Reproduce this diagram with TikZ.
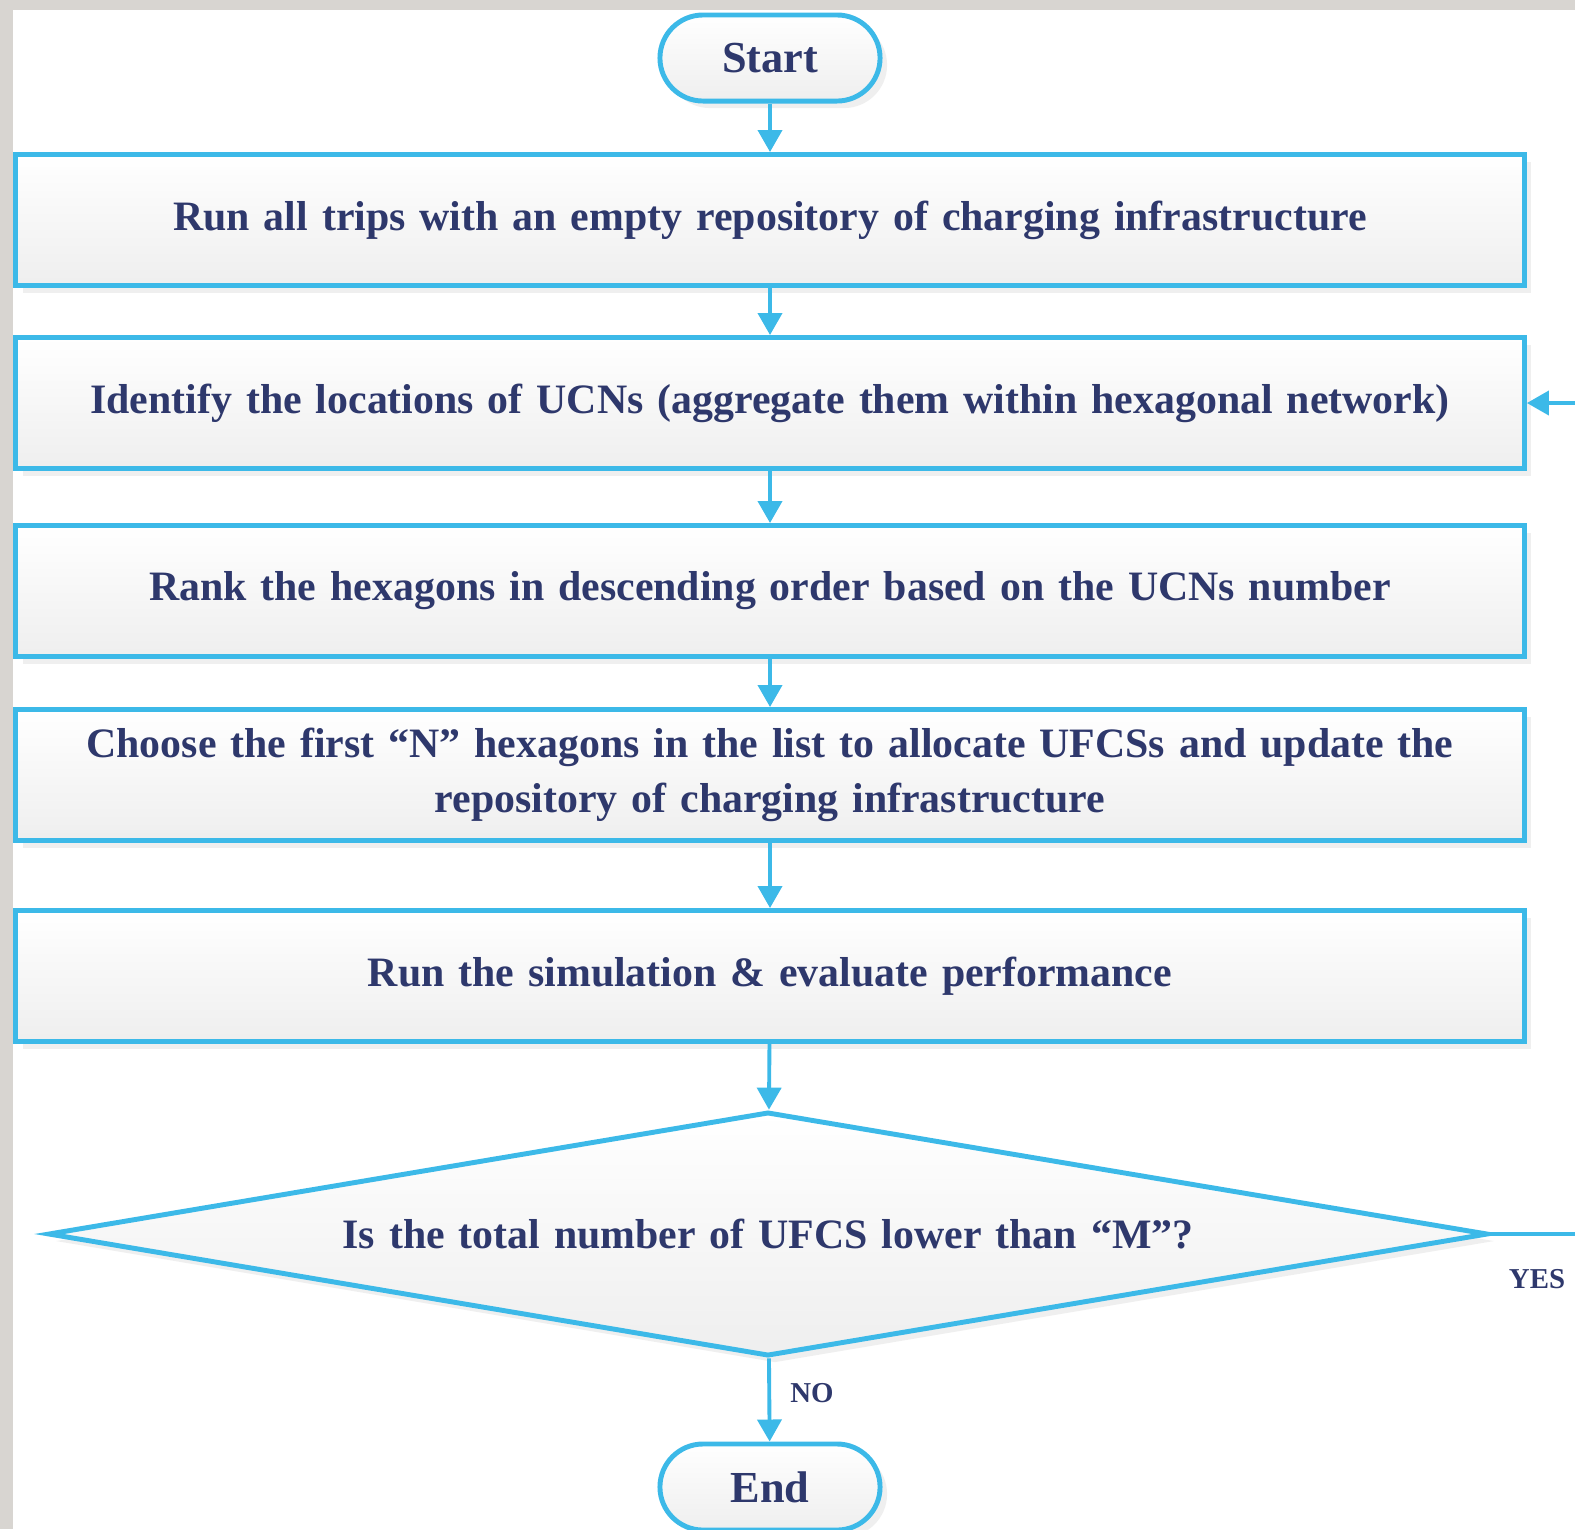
\documentclass[tikz,border=0pt]{standalone}
\usepackage{fontspec}
\setmainfont{Liberation Serif}
\usetikzlibrary{shapes.geometric,arrows.meta,shadows}
\definecolor{lineblue}{RGB}{60,185,232}
\definecolor{textnavy}{RGB}{46,56,108}
\definecolor{bggray}{RGB}{216,213,209}
\tikzset{
  stepbox/.style={draw=lineblue, line width=1.4pt, top color=white, bottom color=gray!13,
    minimum width=15.08cm, minimum height=1.31cm, text width=14.6cm, align=center,
    font=\fontsize{11.9}{15.5}\selectfont\bfseries, text=textnavy,
    drop shadow={shadow xshift=2pt, shadow yshift=-2pt, opacity=0.12}},
  termbox/.style={stepbox, rounded corners=0.43cm, minimum width=2.2cm,
    minimum height=0.86cm, text width=, font=\fontsize{12.6}{14}\selectfont\bfseries},
  testbox/.style={stepbox, diamond, aspect=6, inner sep=0pt, text width=9cm,
    minimum width=14.39cm, minimum height=2.44cm},
  link/.style={draw=lineblue, line width=1.1pt, -{Triangle[length=0.22cm,width=0.24cm]}},
  answer/.style={font=\fontsize{8.2}{10}\selectfont\bfseries, text=textnavy}
}
\begin{document}
\begin{tikzpicture}[x=0.01cm, y=-0.01cm]
\useasboundingbox (0,0) rectangle (1575,1529);
\fill[bggray] (0,0) rectangle (1575,1529);
\fill[white] (13,10) rectangle (1575,1529);

\node[termbox] (start) at (770,58) {Start};
\node[stepbox] (b1) at (770,220) {Run all trips with an empty repository of charging infrastructure};
\node[stepbox] (b2) at (770,403) {Identify the locations of UCNs (aggregate them within hexagonal network)};
\node[stepbox] (b3) at (770,591) {Rank the hexagons in descending order based on the UCNs number};
\node[stepbox] (b4) at (770,775) {Choose the first “N” hexagons in the list to allocate UFCSs and update the\\ repository of charging infrastructure};
\node[stepbox] (b5) at (770,976) {Run the simulation \& evaluate performance};
\node[testbox] (test) at (768,1234) {Is the total number of UFCS lower than “M”?};
\node[termbox] (end) at (770,1487) {End};
\node[answer] (no) at (812,1393) {NO};
\node[answer] (yes) at (1537,1279) {YES};

\draw[link] (start) -- (b1);
\draw[link] (b1) -- (b2);
\draw[link] (b2) -- (b3);
\draw[link] (b3) -- (b4);
\draw[link] (b4) -- (b5);
\draw[link] (b5) -- (test);
\draw[link] (test) -- (end);
\draw[link] (test.east) -- ++(130,0) |- (b2.east);
\end{tikzpicture}
\end{document}
